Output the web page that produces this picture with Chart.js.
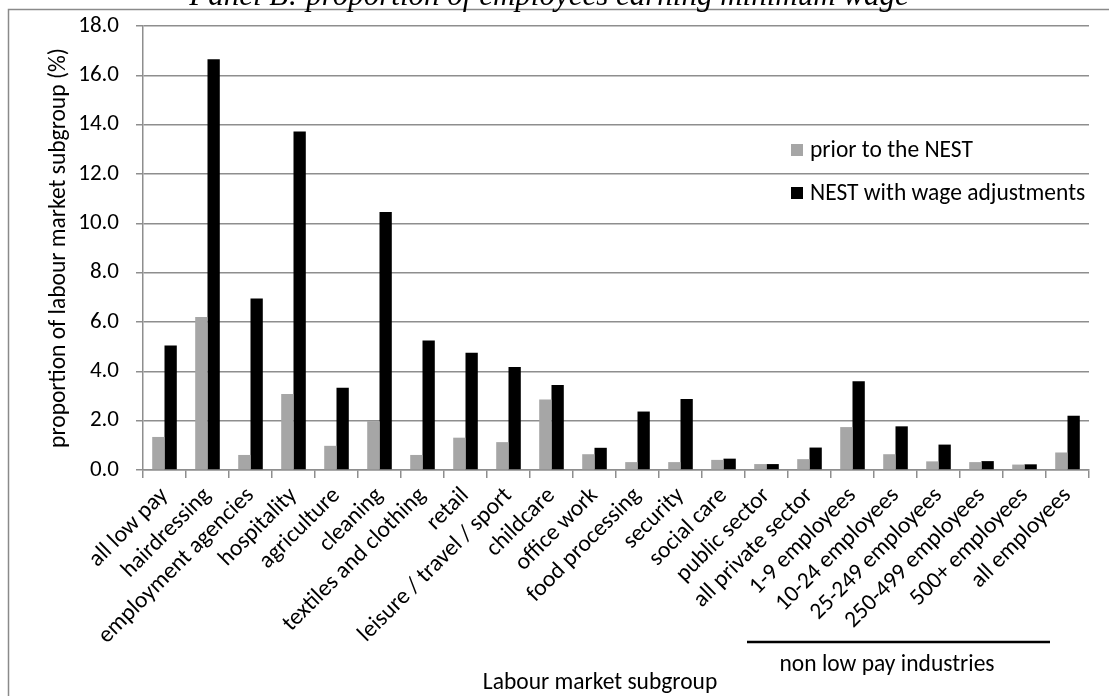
<!DOCTYPE html>
<html>
<head>
<meta charset="utf-8">
<script src="https://cdn.jsdelivr.net/npm/chart.js@4.4.1/dist/chart.umd.min.js"></script>
<style>
  html, body { margin: 0; padding: 0; background: #ffffff; }
  #wrap { width: 1109px; height: 696px; position: relative; }
</style>
</head>
<body>
<div id="wrap"><canvas id="chart" width="1109" height="696"></canvas></div>
<script>
// Labour market subgroups (x axis)
const categories = [
    'all low pay', 'hairdressing', 'employment agencies', 'hospitality', 'agriculture',
    'cleaning', 'textiles and clothing', 'retail', 'leisure / travel / sport', 'childcare',
    'office work', 'food processing', 'security', 'social care', 'public sector',
    'all private sector', '1-9 employees', '10-24 employees', '25-249 employees',
    '250-499 employees', '500+ employees', 'all employees'
];

// % of subgroup earning minimum wage
const priorToNest = [
    1.34, 6.20, 0.61, 3.08, 0.98, 1.98, 0.61, 1.31, 1.13, 2.86,
    0.64, 0.32, 0.32, 0.41, 0.24, 0.44, 1.74, 0.64, 0.35, 0.32, 0.22, 0.71
];
const nestWithWageAdj = [
    5.05, 16.65, 6.95, 13.72, 3.33, 10.46, 5.25, 4.75, 4.18, 3.45,
    0.90, 2.37, 2.88, 0.46, 0.24, 0.91, 3.60, 1.77, 1.03, 0.36, 0.23, 2.20
];

const seriesNames = ['prior to the NEST', 'NEST with wage adjustments'];
const seriesColors = ['#a6a6a6', '#000000'];

const yMin = 0, yMax = 18, yStep = 2;

const FONT = 'Carlito, Lato, sans-serif';
const GRID = '#8e8e8e';

// legend sits inside the plot, to the right
const insideLegend = {
    id: 'insideLegend',
    afterDraw(chart) {
        const ctx = chart.ctx;
        ctx.save();
        ctx.font = '23.5px ' + FONT;
        ctx.textBaseline = 'middle';
        chart.data.datasets.forEach((ds, i) => {
            const y = 150 + i * 43;
            ctx.fillStyle = ds.backgroundColor;
            ctx.fillRect(791, y - 6, 12, 12);
            ctx.fillStyle = '#000';
            ctx.fillText(ds.label, 810, y + 1);
        });
        ctx.restore();
    }
};

// title, frame, group bracket and axis caption
const extras = {
    id: 'extras',
    afterDraw(chart) {
        const ctx = chart.ctx;
        ctx.save();

        ctx.strokeStyle = '#8a8a8a';
        ctx.lineWidth = 1.5;
        ctx.strokeRect(8.5, 9.5, 1200, 800);

        ctx.fillStyle = '#000';
        ctx.font = 'italic 31px "Liberation Serif", "Times New Roman", serif';
        ctx.textAlign = 'center';
        ctx.textBaseline = 'alphabetic';
        ctx.fillText('Panel B: proportion of employees earning minimum wage', 549, 5);

        ctx.strokeStyle = '#000';
        ctx.lineWidth = 2.5;
        ctx.beginPath();
        ctx.moveTo(747, 642);
        ctx.lineTo(1050, 642);
        ctx.stroke();

        ctx.font = '23.5px ' + FONT;
        ctx.textBaseline = 'middle';
        ctx.fillText('non low pay industries', 887, 665);
        ctx.fillText('Labour market subgroup', 600, 683);

        ctx.restore();
    }
};

new Chart(document.getElementById('chart').getContext('2d'), {
    type: 'bar',
    data: {
        labels: categories,
        datasets: [
            {
                label: seriesNames[0],
                data: priorToNest,
                backgroundColor: seriesColors[0],
                barPercentage: 1.0,
                categoryPercentage: 0.572
            },
            {
                label: seriesNames[1],
                data: nestWithWageAdj,
                backgroundColor: seriesColors[1],
                barPercentage: 1.0,
                categoryPercentage: 0.572
            }
        ]
    },
    options: {
        responsive: false,
        animation: false,
        layout: { padding: { left: 45, top: 26, right: 20, bottom: 0 } },
        plugins: {
            legend: { display: false },
            tooltip: { enabled: false }
        },
        scales: {
            x: {
                grid: {
                    offset: true,
                    drawOnChartArea: false,
                    drawTicks: true,
                    tickLength: 8,
                    color: GRID,
                    lineWidth: 1.5
                },
                border: { color: GRID, width: 1.5 },
                ticks: {
                    autoSkip: false,
                    minRotation: 45,
                    maxRotation: 45,
                    padding: 4,
                    color: '#000',
                    font: { family: FONT, size: 23.5 }
                },
                afterFit(scale) { scale.height = 226; }
            },
            y: {
                min: yMin,
                max: yMax,
                ticks: {
                    stepSize: yStep,
                    padding: 17,
                    color: '#000',
                    font: { family: FONT, size: 23 },
                    callback: (v) => Number(v).toFixed(1)
                },
                grid: { color: GRID, lineWidth: 1.5, tickLength: 7 },
                border: { color: GRID, width: 1.5 },
                title: {
                    display: true,
                    text: 'proportion of labour market subgroup (%)',
                    color: '#000',
                    padding: 0,
                    font: { family: FONT, size: 23.5 }
                },
                afterFit(scale) {
                    scale.width = 98;
                    // keep the plot top pinned to the layout padding
                    scale.paddingTop = 0;
                    scale.paddingBottom = 0;
                }
            }
        }
    },
    plugins: [insideLegend, extras]
});
</script>
</body>
</html>
